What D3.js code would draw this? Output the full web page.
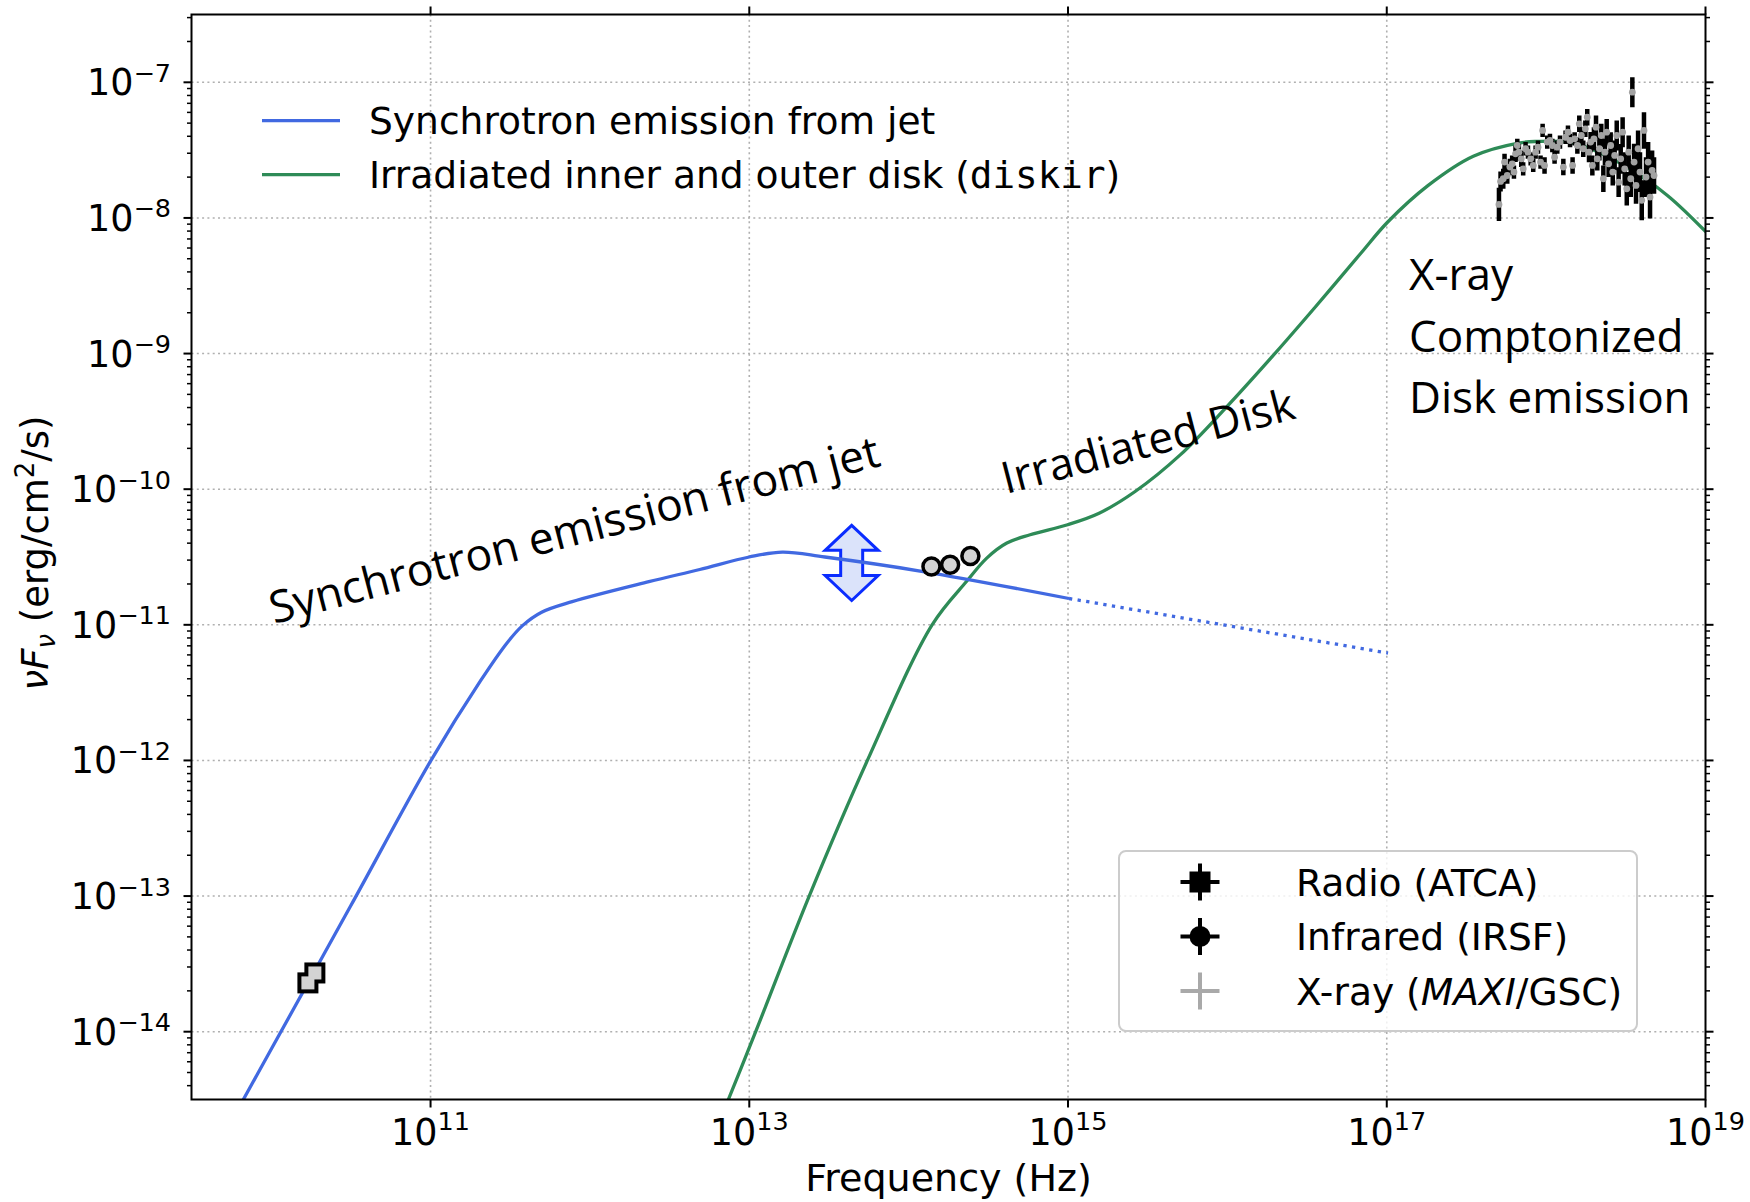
<!DOCTYPE html>
<html>
<head>
<meta charset="utf-8">
<script src="https://cdn.jsdelivr.net/npm/d3@7"></script>
<style>
  body { margin: 0; background: #fff; }
  svg { display: block; }
</style>
</head>
<body>
<div id="chart"></div>
<script>
// values, as log10(nu [Hz]) and log10(nuFnu [erg/cm2/s])

// jet synchrotron model (solid part, then dotted extrapolation)
const synchLogNu   = [9.75, 10.0, 10.5, 11.0, 11.313, 11.481, 11.577, 11.697, 11.889, 12.37, 12.689, 13.0, 13.208, 13.474, 14.091, 15.006];
const synchLogFlux = [-14.66, -14.13, -13.07, -12.005, -11.414, -11.132, -11.006, -10.907, -10.829, -10.682, -10.592, -10.5, -10.464, -10.5, -10.607, -10.806];
const synchExtLogNu   = [15.006, 17.008];
const synchExtLogFlux = [-10.806, -11.208];

// irradiated disk (diskir) model
const diskLogNu   = [12.80, 13.04, 13.376, 13.741, 14.147, 14.364, 14.49, 14.616, 14.762, 14.997, 15.195, 15.421, 15.704, 15.987, 16.271, 16.553, 16.836, 17.006, 17.26, 17.543, 17.826, 17.945, 18.13, 18.30, 18.489, 18.761, 19.05];
const diskLogFlux = [-14.70, -14.0, -13.0, -12.0, -11.0, -10.679, -10.508, -10.397, -10.336, -10.262, -10.177, -10.017, -9.747, -9.404, -9.036, -8.655, -8.262, -8.030, -7.76, -7.545, -7.448, -7.436, -7.44, -7.50, -7.613, -7.834, -8.16];

// radio (ATCA)
const radioNu   = [1.70e10, 1.88e10];
const radioFlux = [2.29e-14, 2.71e-14];

// infrared (IRSF)
const irNu   = [1.39e14, 1.82e14, 2.44e14];
const irFlux = [2.69e-11, 2.77e-11, 3.22e-11];

// range arrow for the jet at mid-infrared
const arrowNu = 4.39e13;
const arrowFluxTop = 5.41e-11;
const arrowFluxBottom = 1.51e-11;

// X-ray (MAXI/GSC) spectrum
const xrayLogNu = [17.704, 17.714, 17.731, 17.739, 17.756, 17.773, 17.787, 17.798, 17.808, 17.819,
  17.829, 17.844, 17.856, 17.871, 17.886, 17.903, 17.919, 17.934, 17.949, 17.965,
  17.978, 17.990, 18.007, 18.024, 18.039, 18.053, 18.070, 18.087, 18.108, 18.122,
  18.137, 18.150, 18.166, 18.179, 18.196, 18.208, 18.221, 18.233, 18.246, 18.258,
  18.269, 18.279, 18.290, 18.300, 18.313, 18.321, 18.334, 18.346, 18.359, 18.369,
  18.380, 18.392, 18.405, 18.418, 18.430, 18.443, 18.455, 18.468, 18.480, 18.493,
  18.506, 18.518, 18.531, 18.541, 18.552, 18.564, 18.577, 18.589, 18.600, 18.614,
  18.627, 18.640, 18.652, 18.665, 18.677];
const xrayLogFlux = [-7.900, -7.731, -7.711, -7.588, -7.687, -7.625, -7.601, -7.662, -7.527, -7.466,
  -7.515, -7.564, -7.638, -7.490, -7.515, -7.564, -7.613, -7.515, -7.478, -7.588,
  -7.355, -7.613, -7.441, -7.429, -7.466, -7.552, -7.478, -7.441, -7.625, -7.405,
  -7.368, -7.429, -7.613, -7.417, -7.466, -7.306, -7.392, -7.490, -7.343, -7.257,
  -7.515, -7.441, -7.613, -7.417, -7.331, -7.564, -7.490, -7.392, -7.711, -7.515,
  -7.368, -7.601, -7.466, -7.662, -7.539, -7.392, -7.736, -7.564, -7.368, -7.638,
  -7.785, -7.515, -7.711, -7.073, -7.588, -7.760, -7.490, -7.662, -7.870, -7.355,
  -7.699, -7.588, -7.846, -7.650, -7.687];
const xrayLogErr = [0.123, 0.074, 0.074, 0.061, 0.061, 0.061, 0.061, 0.049, 0.061, 0.049,
  0.061, 0.061, 0.049, 0.049, 0.049, 0.049, 0.049, 0.049, 0.049, 0.049,
  0.049, 0.061, 0.049, 0.049, 0.049, 0.049, 0.049, 0.049, 0.061, 0.049,
  0.049, 0.049, 0.061, 0.049, 0.061, 0.061, 0.061, 0.061, 0.061, 0.061,
  0.074, 0.074, 0.074, 0.086, 0.086, 0.086, 0.086, 0.086, 0.098, 0.098,
  0.098, 0.098, 0.098, 0.098, 0.110, 0.110, 0.110, 0.110, 0.110, 0.123,
  0.123, 0.123, 0.135, 0.110, 0.135, 0.135, 0.135, 0.147, 0.147, 0.135,
  0.147, 0.147, 0.159, 0.147, 0.135];

// axis ticks (exponents)
const xTickExps = [11, 13, 15, 17, 19];
const yTickExps = [-14, -13, -12, -11, -10, -9, -8, -7];

const topLegend = [
  { label: "Synchrotron emission from jet", color: "#4169e1" },
  { label: "Irradiated inner and outer disk (", mono: "diskir", tail: ")", color: "#2e8b57" },
];

//////////////////////////////////////////////////////////////////////////////

const W = 1750, H = 1202;
const x = d3.scaleLog().domain([10 ** 9.5, 1e19]).range([191.5, 1705.5]);
const y = d3.scaleLog().domain([10 ** -14.5, 10 ** -6.5]).range([1099.5, 14.5]);
const [x0, x1] = x.range();
const [y1, y0] = y.range();

const svg = d3.select("#chart")
  .append("svg")
  .attr("width", W)
  .attr("height", H)
  .style("font-family", "'DejaVu Sans'");

svg.append("defs").append("clipPath").attr("id", "plot")
  .append("rect")
  .attr("x", x0).attr("y", y0)
  .attr("width", x1 - x0).attr("height", y1 - y0);

// grid
const grid = svg.append("g")
  .attr("stroke", "#b0b0b0")
  .attr("stroke-width", 1.6)
  .attr("stroke-dasharray", "2,3.3");
grid.selectAll("line.h")
  .data(yTickExps)
  .enter()
  .append("line")
  .attr("x1", x0).attr("x2", x1)
  .attr("y1", (d) => y(10 ** d)).attr("y2", (d) => y(10 ** d));
grid.selectAll("line.v")
  .data(xTickExps.filter((d) => d < 19))
  .enter()
  .append("line")
  .attr("y1", y0).attr("y2", y1)
  .attr("x1", (d) => x(10 ** d)).attr("x2", (d) => x(10 ** d));

const plot = svg.append("g").attr("clip-path", "url(#plot)");

// double arrow (range of the jet flux)
{
  const cx = x(arrowNu), top = y(arrowFluxTop), bot = y(arrowFluxBottom);
  const hl = 25, hw = 26.5, sw = 11;
  const p = d3.path();
  p.moveTo(cx, top);
  p.lineTo(cx + hw, top + hl);
  p.lineTo(cx + sw, top + hl);
  p.lineTo(cx + sw, bot - hl);
  p.lineTo(cx + hw, bot - hl);
  p.lineTo(cx, bot);
  p.lineTo(cx - hw, bot - hl);
  p.lineTo(cx - sw, bot - hl);
  p.lineTo(cx - sw, top + hl);
  p.lineTo(cx - hw, top + hl);
  p.closePath();
  plot.append("path")
    .attr("d", p.toString())
    .attr("fill", "#dbe3fa")
    .attr("stroke", "#0a2cff")
    .attr("stroke-width", 3)
    .attr("stroke-linejoin", "miter");
}

const line = d3.line()
  .x((d) => x(10 ** d[0]))
  .y((d) => y(10 ** d[1]))
  .curve(d3.curveCatmullRom.alpha(0.5));

plot.append("path")
  .attr("d", line(d3.zip(diskLogNu, diskLogFlux)))
  .attr("fill", "none")
  .attr("stroke", "#2e8b57")
  .attr("stroke-width", 3.3);

plot.append("path")
  .attr("d", line(d3.zip(synchLogNu, synchLogFlux)))
  .attr("fill", "none")
  .attr("stroke", "#4169e1")
  .attr("stroke-width", 3.3);

plot.append("path")
  .attr("d", line(d3.zip(synchExtLogNu, synchExtLogFlux)))
  .attr("fill", "none")
  .attr("stroke", "#4169e1")
  .attr("stroke-width", 3.3)
  .attr("stroke-dasharray", "3.3,5.4");

// X-ray spectrum: black error bars, grey points
const xray = d3.range(xrayLogNu.length).map((i) => ({
  nu: 10 ** xrayLogNu[i],
  f: 10 ** xrayLogFlux[i],
  lo: 10 ** (xrayLogFlux[i] - xrayLogErr[i]),
  hi: 10 ** (xrayLogFlux[i] + xrayLogErr[i]),
}));
plot.append("g")
  .selectAll("line")
  .data(xray)
  .enter()
  .append("line")
  .attr("x1", (d) => x(d.nu)).attr("x2", (d) => x(d.nu))
  .attr("y1", (d) => y(d.lo)).attr("y2", (d) => y(d.hi))
  .attr("stroke", "#000")
  .attr("stroke-width", 4.5);
plot.append("g")
  .selectAll("circle")
  .data(xray)
  .enter()
  .append("circle")
  .attr("cx", (d) => x(d.nu))
  .attr("cy", (d) => y(d.f))
  .attr("r", 3.4)
  .attr("fill", "#a2a2a2");

// radio squares (outline pass then fill pass so they merge)
const radio = d3.zip(radioNu, radioFlux);
plot.append("g")
  .selectAll("rect")
  .data(radio)
  .enter()
  .append("rect")
  .attr("x", (d) => x(d[0]) - 10.5).attr("y", (d) => y(d[1]) - 10.5)
  .attr("width", 21).attr("height", 21)
  .attr("fill", "#000");
plot.append("g")
  .selectAll("rect")
  .data(radio)
  .enter()
  .append("rect")
  .attr("x", (d) => x(d[0]) - 6.5).attr("y", (d) => y(d[1]) - 6.5)
  .attr("width", 13).attr("height", 13)
  .attr("fill", "#d3d3d3");

// infrared circles
plot.append("g")
  .selectAll("circle")
  .data(d3.zip(irNu, irFlux))
  .enter()
  .append("circle")
  .attr("cx", (d) => x(d[0]))
  .attr("cy", (d) => y(d[1]))
  .attr("r", 8.5)
  .attr("fill", "#d3d3d3")
  .attr("stroke", "#000")
  .attr("stroke-width", 3.5);

// spines and ticks
svg.append("rect")
  .attr("x", x0).attr("y", y0)
  .attr("width", x1 - x0).attr("height", y1 - y0)
  .attr("fill", "none")
  .attr("stroke", "#000")
  .attr("stroke-width", 2);

const yMinor = y.ticks().filter((v) => Math.abs(Math.log10(v) - Math.round(Math.log10(v))) > 1e-6);
const ticks = svg.append("g").attr("stroke", "#000");
[[x0, -1], [x1, 1]].forEach(([sx, dir]) => {
  ticks.append("g").selectAll("line")
    .data(yTickExps)
    .enter()
    .append("line")
    .attr("x1", sx).attr("x2", sx + dir * 8)
    .attr("y1", (d) => y(10 ** d)).attr("y2", (d) => y(10 ** d))
    .attr("stroke-width", 2);
  ticks.append("g").selectAll("line")
    .data(yMinor)
    .enter()
    .append("line")
    .attr("x1", sx).attr("x2", sx + dir * 4.5)
    .attr("y1", (d) => y(d)).attr("y2", (d) => y(d))
    .attr("stroke-width", 1.5);
});
[[y1, 1], [y0, -1]].forEach(([sy, dir]) => {
  ticks.append("g").selectAll("line")
    .data(xTickExps)
    .enter()
    .append("line")
    .attr("y1", sy).attr("y2", sy + dir * 8)
    .attr("x1", (d) => x(10 ** d)).attr("x2", (d) => x(10 ** d))
    .attr("stroke-width", 2);
});

// tick labels
svg.append("g")
  .selectAll("text")
  .data(yTickExps)
  .enter()
  .append("text")
  .attr("x", 171)
  .attr("y", (d) => y(10 ** d) + 13)
  .attr("text-anchor", "end")
  .attr("font-size", 36.5)
  .each(function (d) {
    const t = d3.select(this);
    t.append("tspan").text("10");
    t.append("tspan").attr("dy", -13.5).attr("font-size", 25.5).text("\u2212" + Math.abs(d));
  });

svg.append("g")
  .selectAll("text")
  .data(xTickExps)
  .enter()
  .append("text")
  .attr("x", (d) => x(10 ** d))
  .attr("y", 1145)
  .attr("text-anchor", "middle")
  .attr("font-size", 36.5)
  .each(function (d) {
    const t = d3.select(this);
    t.append("tspan").text("10");
    t.append("tspan").attr("dy", -15).attr("font-size", 25.5).text(d);
  });

// axis labels
svg.append("text")
  .attr("x", (x0 + x1) / 2)
  .attr("y", 1191)
  .attr("text-anchor", "middle")
  .attr("font-size", 38)
  .text("Frequency (Hz)");

svg.append("text")
  .attr("transform", `translate(48,${(y0 + y1) / 2 - 4}) rotate(-90)`)
  .attr("text-anchor", "middle")
  .attr("font-size", 37)
  .each(function () {
    const t = d3.select(this);
    t.append("tspan").attr("font-style", "italic").text("\u03bdF");
    t.append("tspan").attr("font-style", "italic").attr("font-size", 26).attr("dy", 7).text("\u03bd");
    t.append("tspan").attr("dy", -7).text(" (erg/cm");
    t.append("tspan").attr("font-size", 26).attr("dy", -14).text("2");
    t.append("tspan").attr("dy", 14).text("/s)");
  });

// upper-left legend (no frame)
const tl = svg.append("g")
  .selectAll("g")
  .data(topLegend)
  .enter()
  .append("g")
  .attr("transform", (d, i) => `translate(0,${120.7 + i * 54})`);
tl.append("line")
  .attr("x1", 262).attr("x2", 340)
  .attr("stroke", (d) => d.color)
  .attr("stroke-width", 3.3);
tl.append("text")
  .attr("x", 369)
  .attr("y", 13.5)
  .attr("font-size", 37.6)
  .each(function (d) {
    const t = d3.select(this);
    t.append("tspan").text(d.label);
    if (d.mono) {
      t.append("tspan").attr("font-family", "'DejaVu Sans Mono'").text(d.mono);
      t.append("tspan").text(d.tail);
    }
  });

// lower-right legend
const lg = svg.append("g");
lg.append("rect")
  .attr("x", 1119).attr("y", 851)
  .attr("width", 518).attr("height", 180)
  .attr("rx", 7)
  .attr("fill", "#fff").attr("fill-opacity", 0.8)
  .attr("stroke", "#cccccc").attr("stroke-width", 2);

const rows = [882, 936.5, 991];
const mx = 1200;
function crossAt(g, cy, color) {
  g.append("line").attr("x1", mx - 19.5).attr("x2", mx + 19.5).attr("y1", cy).attr("y2", cy)
    .attr("stroke", color).attr("stroke-width", 4);
  g.append("line").attr("x1", mx).attr("x2", mx).attr("y1", cy - 18.5).attr("y2", cy + 18.5)
    .attr("stroke", color).attr("stroke-width", 4);
}
crossAt(lg, rows[0], "#000");
lg.append("rect").attr("x", mx - 10.5).attr("y", rows[0] - 10.5).attr("width", 21).attr("height", 21).attr("fill", "#000");
crossAt(lg, rows[1], "#000");
lg.append("circle").attr("cx", mx).attr("cy", rows[1]).attr("r", 10.5).attr("fill", "#000");
crossAt(lg, rows[2], "#a9a9a9");

const lgText = lg.append("g").attr("font-size", 37.6);
lgText.append("text").attr("x", 1296).attr("y", rows[0] + 13.5).text("Radio (ATCA)");
lgText.append("text").attr("x", 1296).attr("y", rows[1] + 13.5).text("Infrared (IRSF)");
lgText.append("text").attr("x", 1296).attr("y", rows[2] + 13.5)
  .each(function () {
    const t = d3.select(this);
    t.append("tspan").text("X-ray (");
    t.append("tspan").attr("font-style", "italic").text("MAXI");
    t.append("tspan").text("/GSC)");
  });

// annotations
const ann = svg.append("g")
  .style("font-family", "'Open Sans'")
  .attr("font-size", 44)
  .attr("fill", "#000");
ann.append("text")
  .attr("transform", "translate(274,624) rotate(-14.6)")
  .attr("font-size", 44.5)
  .text("Synchrotron emission from jet");
ann.append("text")
  .attr("transform", "translate(1006,494) rotate(-14.6)")
  .text("Irradiated Disk");
["X-ray", "Comptonized", "Disk emission"].forEach((s, i) => {
  ann.append("text")
    .attr("x", 1409)
    .attr("y", 290 + i * 61.7)
    .text(s);
});
</script>
</body>
</html>
